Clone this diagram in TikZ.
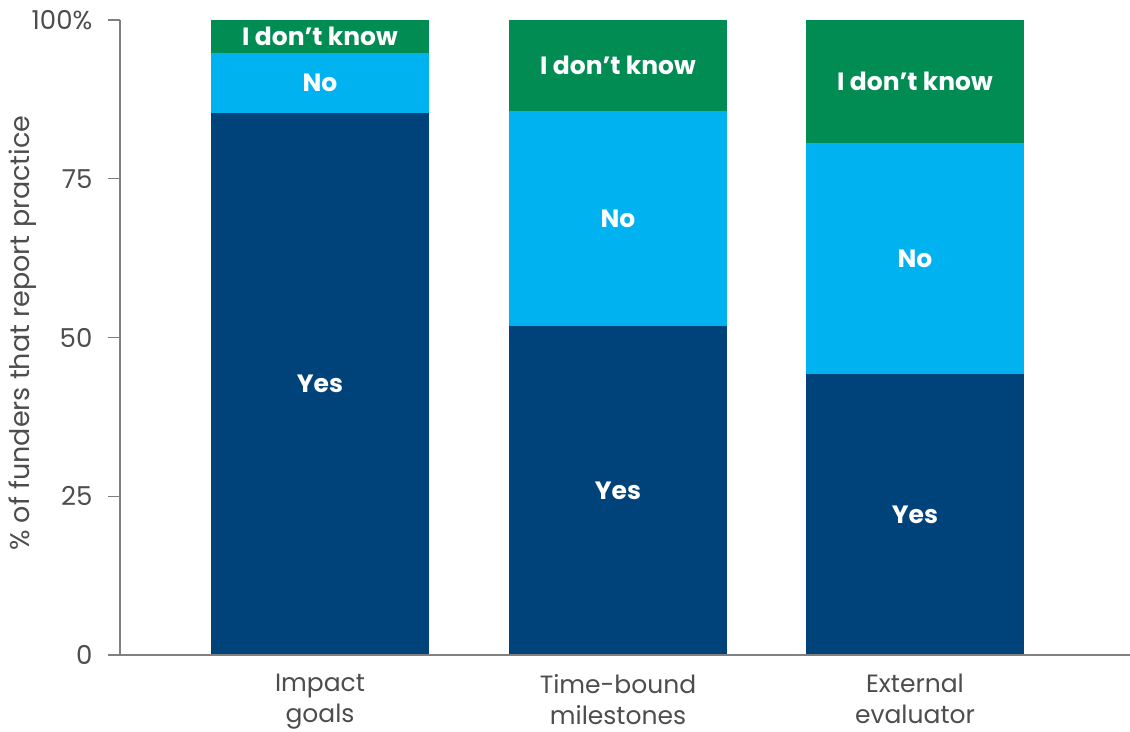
\documentclass[tikz,border=0pt]{standalone}
\usepackage{fontspec}
\setmainfont{Poppins}
\definecolor{yescol}{HTML}{00437A}
\definecolor{nocol}{HTML}{00B3F0}
\definecolor{idkcol}{HTML}{008C53}
\definecolor{axiscol}{HTML}{808080}
\definecolor{textcol}{HTML}{4D4D4F}
\tikzset{
  barlabel/.style={text=white, inner sep=0pt, font=\bfseries\fontsize{25}{30}\selectfont},
  ticklabel/.style={text=textcol, anchor=east, inner sep=0pt, font=\fontsize{26}{30}\selectfont},
  catlabel/.style={text=textcol, anchor=north, inner sep=0pt, align=center, font=\fontsize{25}{31}\selectfont}
}
\begin{document}
\begin{tikzpicture}[x=1pt, y=6.35pt, line cap=butt]
\useasboundingbox (-120,-11.97) rectangle (1010,103.15);
\def\hw{109}
% stacked bars: centre / yes top / no top / name
\foreach \c/\yes/\no/\n in {200/85.4/94.8/a, 498/51.8/85.7/b, 795/44.3/80.6/c}{
  \fill[yescol] (\c-\hw,0) rectangle (\c+\hw,\yes);
  \fill[nocol] (\c-\hw,\yes) rectangle (\c+\hw,\no);
  \fill[idkcol] (\c-\hw,\no) rectangle (\c+\hw,100);
  \node[barlabel] (yes\n) at (\c,\yes/2) {Yes};
  \node[barlabel] (no\n) at (\c,{(\yes+\no)/2}) {No};
  \node[barlabel] (idk\n) at (\c,{(\no+100)/2}) {I don’t know};
}
% axes
\coordinate (O) at (0,0);
\coordinate (top) at (0,100);
\coordinate (right) at (1010,0);
\draw[axiscol, line width=1.6pt] (top) -- (O) -- (right);
\foreach \y/\lab in {0/0,25/25,50/50,75/75,100/100\%}
  \draw[axiscol, line width=1.3pt] (-12,\y) -- (0,\y) node[ticklabel, xshift=-27pt] (t\y) {\lab};
\node[text=textcol, rotate=90, inner sep=0pt, font=\fontsize{27}{32}\selectfont] (ylab) at (-97,50.7) {\% of funders that report practice};
% categories
\node[catlabel] (cata) at (200,-3.0) {Impact\\goals};
\node[catlabel] (catb) at (498,-3.0) {Time-bound\\milestones};
\node[catlabel] (catc) at (795,-3.0) {External\\evaluator};
\end{tikzpicture}
\end{document}
